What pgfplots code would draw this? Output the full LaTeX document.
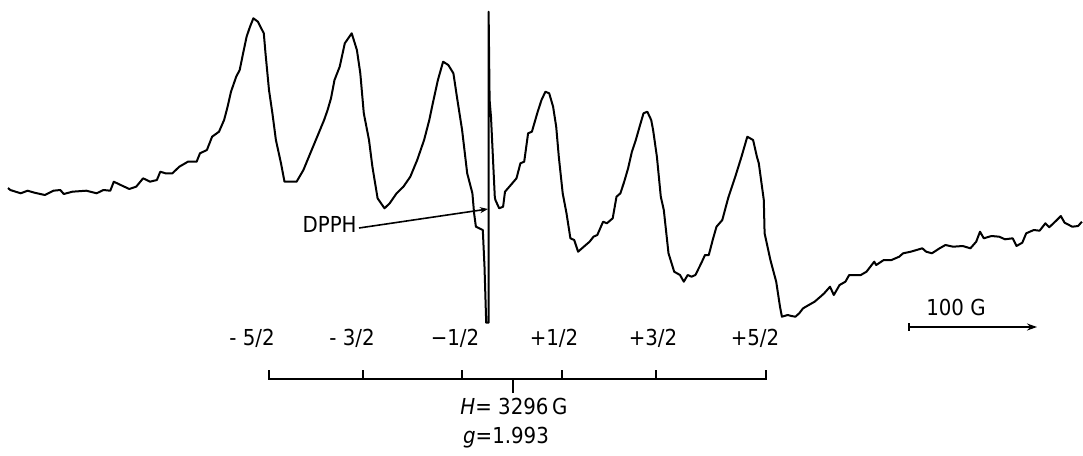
\documentclass[border=0pt]{standalone}
\usepackage{pgfplots}
\pgfplotsset{compat=1.18}
\usepackage{fontspec}
\setmainfont{DejaVu Sans Condensed}
\usetikzlibrary{arrows.meta}

\begin{document}
\begin{tikzpicture}
\begin{axis}[
    scale only axis,
    width=541.5pt, height=224.5pt,
    xmin=0, xmax=1083, ymin=0, ymax=449,
    y dir=reverse,
    hide axis,
    clip=false,
]
\path (axis cs:0,0) rectangle (axis cs:1083,449);

% EPR spectrum (pixel coordinates, y measured from the top)
\addplot[black, line width=1pt, line join=round] coordinates {
(8,188)(10.3,190)(20.7,193.3)(27.6,190.7)(34.5,192.7)(44.8,195)(53.4,190.7)
(60.3,190)(63.8,194)(72.4,191.7)(86.2,190.7)(96.6,193.3)(103.4,190)(110.3,190.7)
(113.8,181.7)(120.7,185)(129.3,189)(136.2,186.7)(143.1,178.3)(150,181.7)
(156.9,180)(160.3,171.7)(165.5,173.3)(172.4,173.3)(179.3,166.7)(187.9,161.7)
(196.6,161.7)(200,153.3)(206.9,150)(212.1,136.7)(219,131.7)(224.1,120)
(227.6,106.7)(231,91.7)(236.2,76.7)(239.7,70)(243.1,53.3)(246.6,36.7)(250,26.7)
(253.4,18.3)(257.9,21.7)(263.8,33.3)(265.5,53.3)(269,90)(272.4,113.3)(275.9,140)
(281,163.3)(284.5,181.7)(293.1,181.7)(296.6,181.7)(303.4,170)(310.3,153.3)
(317.2,136.7)(324.1,120)(327.6,110)(331,98.3)(334.5,80)(339.7,66.7)(344.8,43.3)
(351.7,33.3)(356.9,50)(360.3,73.3)(363.8,113.3)(369,140)(372.4,166.7)
(377.6,198.3)(384.5,208.3)(389.7,203.3)(396.6,193.3)(403.4,186.7)(410.3,176.7)
(417.2,160)(424.1,140)(429.3,120)(432.8,103.3)(437.9,80)(443.1,61.7)(448.3,65)
(453.4,73.3)(456.9,96.7)(462.1,130)(467.2,173.3)(472.4,193.3)(474.1,213.3)
(475.9,226.7)(482.8,230)(484.5,266.7)(486.2,322.7)(488.6,322.7)(488.6,11.7)
(489.6,100)(491,117)(494.8,197)(495.4,200)(499.2,208.3)(503.1,206.7)(505,191.7)
(510.8,185)(516.5,178.3)(520.4,163.3)(524.2,161.7)(528.1,133.3)(531.9,131.7)
(537.7,111.7)(541.5,100)(545.4,91.7)(549.2,93.3)(553.1,106.7)(556.2,126.7)
(558.8,156.7)(562.7,193.3)(566.5,213.3)(570.4,238.3)(574.2,240)(578.1,251.7)
(583.8,246.7)(589.6,241.7)(593.5,236.7)(597.3,235)(603.1,221.7)(606.9,223.3)
(612.7,218.3)(616.5,196.7)(620.4,193.3)(624.2,181.7)(628.1,168.3)(631.9,151.7)
(635.8,140)(639.6,126.7)(643.5,113.3)(647.3,111.7)(651.2,120)(653.1,130)
(656.9,156.7)(660.8,196.7)(663.8,210)(668.5,253.3)(674.2,271.7)(680,275)
(683.8,281.7)(687.7,275)(691.5,276.7)(695.4,275)(701.2,263.3)(705,255)
(708.8,255)(712.7,240)(716.5,226.7)(722.3,220)(728.1,198.3)(731.9,186.7)
(735.8,175)(741.5,156.7)(747.3,136.7)(753.1,140)(756.9,156.7)(758.8,163.3)
(763.8,200)(764.6,233.3)(770.4,260)(776.2,281.7)(780,306.7)(781.9,316.7)
(787.7,315)(791.5,316)(795.4,316.7)(799.2,313.3)(803.1,308.3)(808.8,305)
(814.6,301.7)(820.4,296.7)(824.2,293.3)(830,286.7)(833.8,295)(839.6,285)
(845.4,281.7)(849.2,275)(860.8,275)(866.5,271.7)(874.2,261.7)(876.2,265)
(883.8,260)(891.5,260)(899.2,256.7)(903.1,253.3)(910.8,251.7)(922.3,248.3)
(926.2,251.7)(931.9,253.3)(939.6,248.3)(945.4,245)(953.1,246.7)(962.7,246)
(970.4,248.3)(976.2,241.7)(980,231.7)(983.8,238.3)(991.5,236)(999.2,236.7)
(1005,239.3)(1012.7,238.3)(1016.5,246)(1022.3,242.7)(1026.2,233.3)(1033.8,230)
(1039.6,230.7)(1045.4,223.3)(1049.2,227.3)(1056.9,220)(1060.8,216)(1064.6,222.7)
(1072.3,226.7)(1078.1,226)(1081.9,221.7)
};

% DPPH label and pointer
\node[font=\fontsize{11}{12}\selectfont, anchor=east, inner sep=1pt] at (axis cs:359,224) {DPPH};
\draw[line width=0.8pt, -{Stealth[length=4pt,width=3pt]}] (axis cs:359,228) -- (axis cs:488,209);

% hyperfine labels
\node[font=\fontsize{11}{12}\selectfont] at (axis cs:252,338) {- 5/2};
\node[font=\fontsize{11}{12}\selectfont] at (axis cs:352,338) {- 3/2};
\node[font=\fontsize{11}{12}\selectfont] at (axis cs:455,338) {−1/2};
\node[font=\fontsize{11}{12}\selectfont] at (axis cs:554,338) {+1/2};
\node[font=\fontsize{11}{12}\selectfont] at (axis cs:653,338) {+3/2};
\node[font=\fontsize{11}{12}\selectfont] at (axis cs:755,338) {+5/2};

% stick diagram
\draw[line width=0.9pt] (axis cs:269,370) -- (axis cs:269,379) -- (axis cs:766,379) -- (axis cs:766,370);
\draw[line width=0.9pt] (axis cs:363,370) -- (axis cs:363,379);
\draw[line width=0.9pt] (axis cs:462,370) -- (axis cs:462,379);
\draw[line width=0.9pt] (axis cs:562,370) -- (axis cs:562,379);
\draw[line width=0.9pt] (axis cs:656,370) -- (axis cs:656,379);
\draw[line width=0.9pt] (axis cs:513,379) -- (axis cs:513,393);
\node[font=\fontsize{11}{12}\selectfont] at (axis cs:514,406) {\textit{H}= 3296\,G};
\node[font=\fontsize{11}{12}\selectfont] at (axis cs:506,438) {\textit{g}=1.993};

% field scale
\node[font=\fontsize{11}{12}\selectfont] at (axis cs:956,307) {100 G};
\draw[line width=0.9pt, -{Stealth[length=5pt,width=3.5pt]}] (axis cs:909,327) -- (axis cs:1037,327);
\draw[line width=0.9pt] (axis cs:909,323) -- (axis cs:909,331);
\end{axis}
\end{tikzpicture}
\end{document}
